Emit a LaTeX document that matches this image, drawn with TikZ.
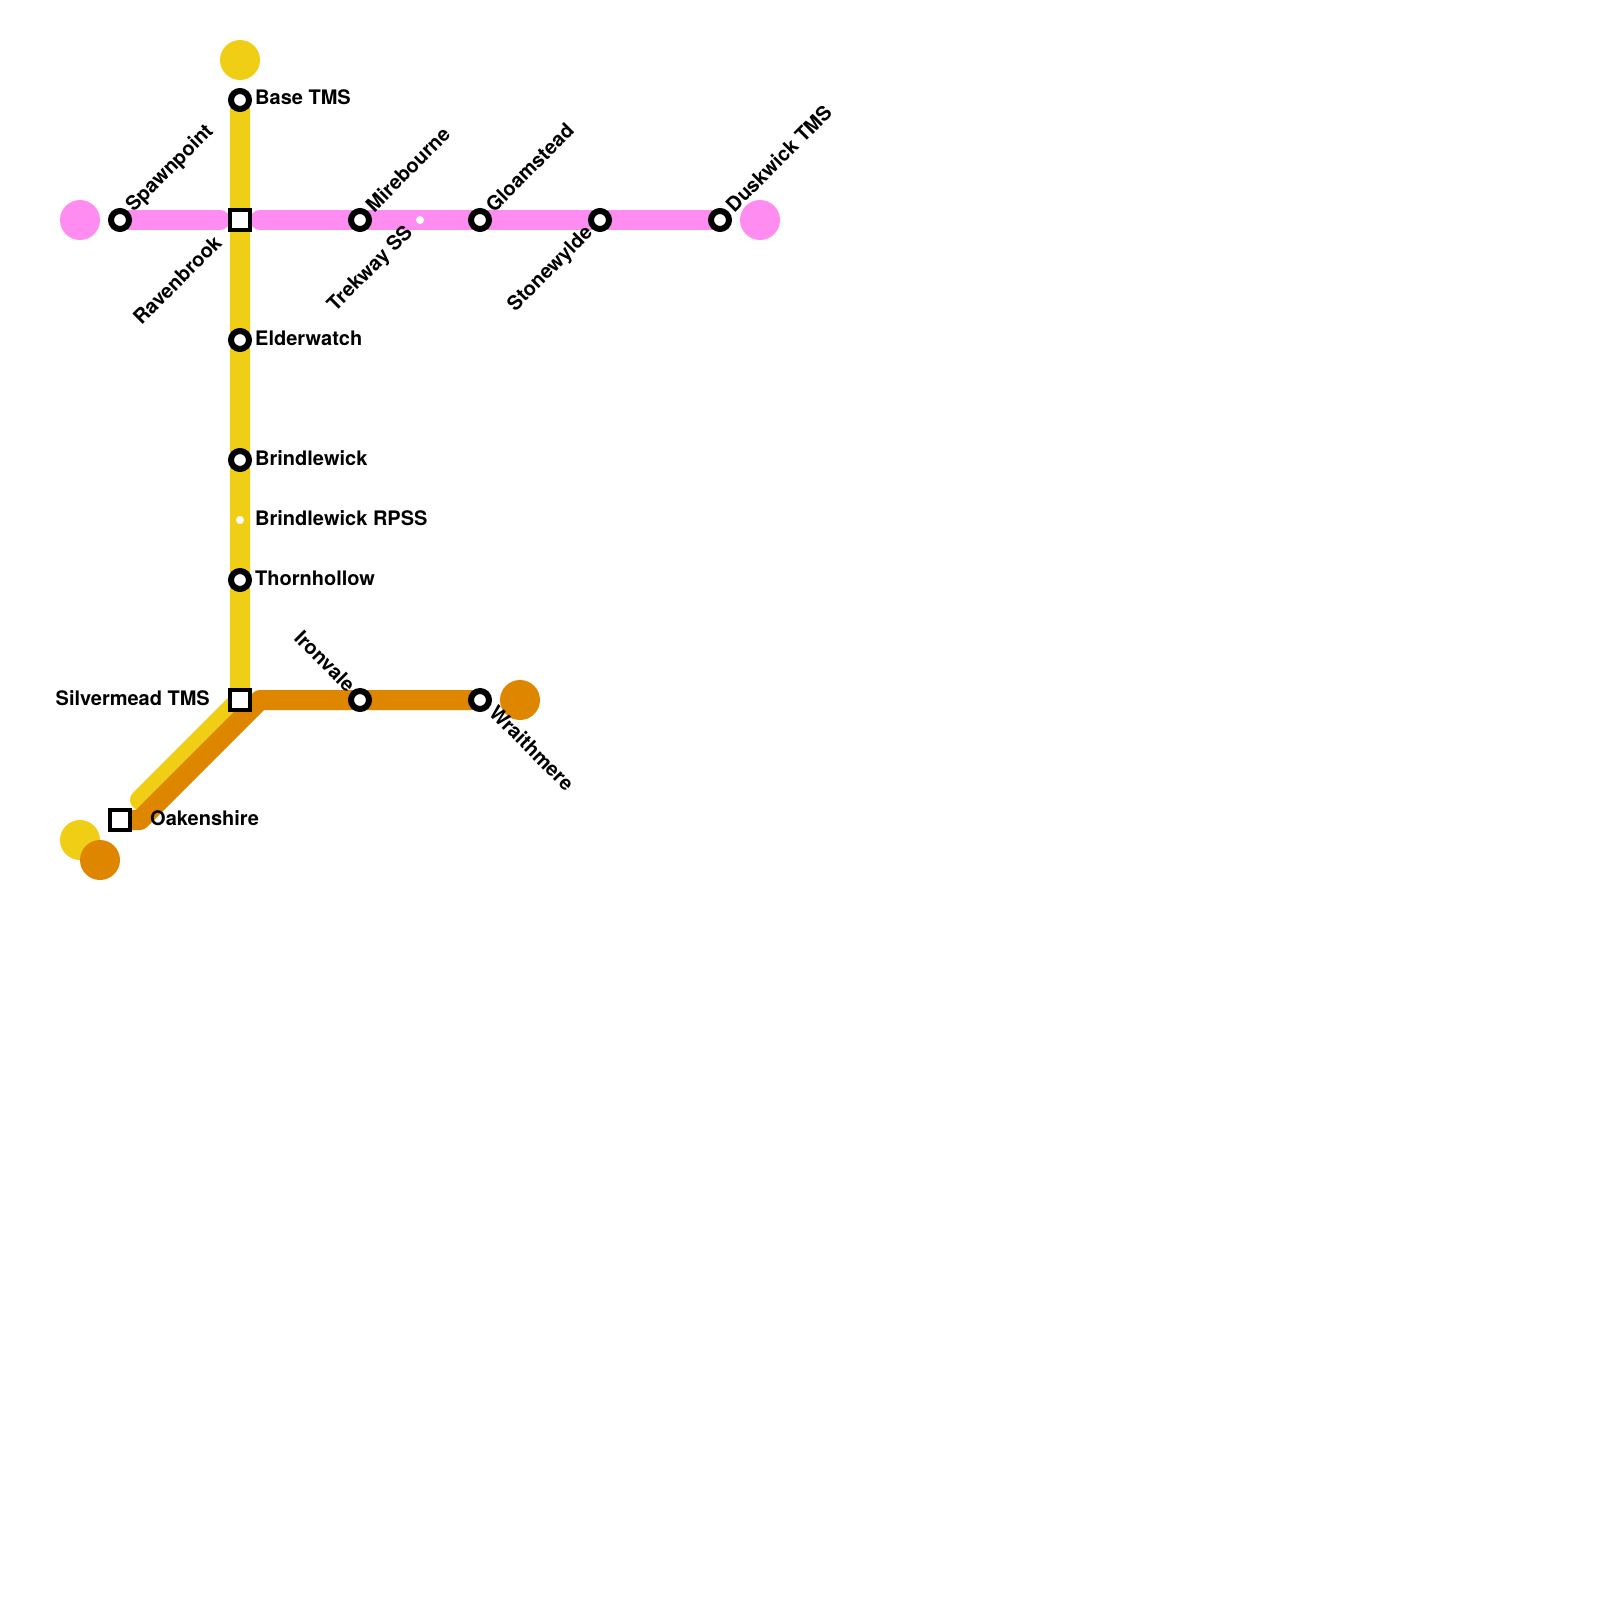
\documentclass[tikz,border=0pt]{standalone}
\usepackage{fontspec}
\setmainfont{TeX Gyre Heros}
\usepackage{tikz}
\usetikzlibrary{positioning, backgrounds}

\definecolor{pinkline}{HTML}{FF8CF0}
\definecolor{yellowline}{HTML}{F0CE15}
\definecolor{orangeline}{HTML}{DF8600}

\begin{document}
\begin{tikzpicture}[
    x=1pt, y=-1pt,
    on grid,
    node distance=120pt and 120pt,
    stn/.style={circle, draw=black, fill=white, line width=6pt, inner sep=0pt, minimum size=18pt},
    xchg/.style={rectangle, draw=black, fill=white, line width=4pt, inner sep=0pt, minimum size=20pt},
    stop/.style={circle, fill=white, inner sep=0pt, minimum size=8pt},
    term/.style={circle, fill=#1, inner sep=0pt, minimum size=40pt},
    lbl/.style={font=\bfseries\fontsize{20pt}{24pt}\selectfont, inner sep=0pt, text=black},
    route/.style={line width=20pt, line cap=round, line join=round, draw=#1}
]
\useasboundingbox (0,0) rectangle (1600,1600);

% yellow line stations
\node[stn] (base) at (240,100) {};
\node[xchg, below=of base] (raven) {};
\node[stn, below=of raven] (elder) {};
\node[stn, below=of elder] (brind) {};
\node[stop, below=60pt of brind] (rpss) {};
\node[stn, below=60pt of rpss] (thorn) {};
\node[xchg, below=of thorn] (silver) {};
\node[xchg, below left=of silver] (oaken) {};

% pink line stations
\node[stn, left=of raven] (spawn) {};
\node[stn, right=of raven] (mire) {};
\node[stop, right=60pt of mire] (trek) {};
\node[stn, right=60pt of trek] (gloam) {};
\node[stn, right=of gloam] (stone) {};
\node[stn, right=of stone] (dusk) {};

% orange line stations
\node[stn, right=of silver] (iron) {};
\node[stn, right=of iron] (wraith) {};

% line ends
\node[term=yellowline, above=40pt of base] (yend) {};
\node[term=pinkline, left=40pt of spawn] (pendw) {};
\node[term=pinkline, right=40pt of dusk] (pende) {};
\node[term=orangeline, right=40pt of wraith] (oende) {};
\node[term=yellowline, below left=20pt and 40pt of oaken] (yendsw) {};
\node[term=orangeline, below right=20pt and 20pt of yendsw] (oendsw) {};

\coordinate (pgapw) at (220,220);
\coordinate (pgape) at (260,220);
\coordinate (ybend) at (140,800);
\coordinate (obend) at (260,700);
\coordinate (ofoot) at (140,820);

\begin{scope}[on background layer]
\draw[route=pinkline] (spawn.center) -- (pgapw);
\draw[route=pinkline] (pgape) -- (dusk.center);
\draw[route=yellowline] (base.center) -- (silver.center) -- (ybend);
\draw[route=orangeline] (wraith.center) -- (obend) -- (ofoot) -- (oaken.center);
\end{scope}

% labels
\node[lbl, anchor=west] (lbase) at (255,97.5) {Base TMS};
\node[lbl, anchor=west] (lelder) at (255,338) {Elderwatch};
\node[lbl, anchor=west] (lbrind) at (255,458) {Brindlewick};
\node[lbl, anchor=west] (lrpss) at (255,518) {Brindlewick RPSS};
\node[lbl, anchor=west] (lthorn) at (255,578) {Thornhollow};
\node[lbl, anchor=east] (lsilver) at (210,698) {Silvermead TMS};
\node[lbl, anchor=west] (loaken) at (150,818) {Oakenshire};

\node[lbl, anchor=west, rotate=45] (lspawn) at (130,209) {Spawnpoint};
\node[lbl, anchor=west, rotate=45] (lmire) at (369,208) {Mirebourne};
\node[lbl, anchor=west, rotate=45] (lgloam) at (489,208) {Gloamstead};
\node[lbl, anchor=west, rotate=45] (ldusk) at (729,208) {Duskwick TMS};
\node[lbl, anchor=east, rotate=45] (lraven) at (218,239) {Ravenbrook};
\node[lbl, anchor=east, rotate=45] (ltrek) at (410,230) {Trekway SS};
\node[lbl, anchor=east, rotate=45] (lstone) at (590,230) {Stonewylde};
\node[lbl, anchor=east, rotate=-45] (liron) at (352,688) {Ironvale};
\node[lbl, anchor=west, rotate=-45] (lwraith) at (493,709) {Wraithmere};
\end{tikzpicture}
\end{document}
